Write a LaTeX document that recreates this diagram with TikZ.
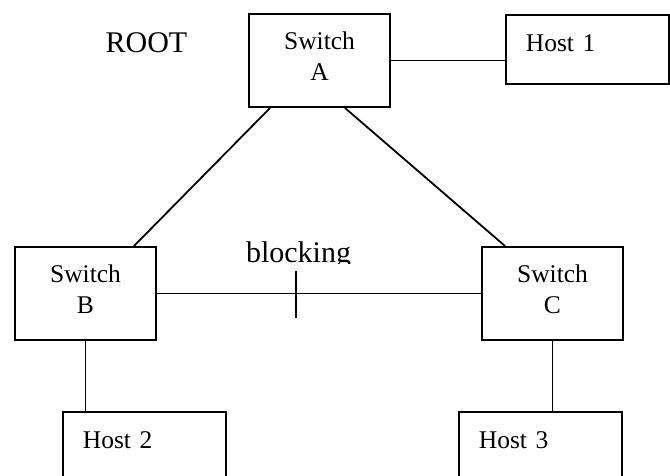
\documentclass[tikz,border=0pt]{standalone}
\usepackage{fontspec}
\setmainfont{Liberation Serif}
\begin{document}
\begin{tikzpicture}[x=1pt,y=1pt,line width=1.8pt,
  switchbox/.style={draw, minimum width=141pt, minimum height=93pt, inner sep=0pt, align=center, text depth=9pt, font=\fontsize{25.5}{31.5}\selectfont},
  hostbox/.style={draw, anchor=north west, inner xsep=20pt, inner ysep=19.5pt, text width=123pt, align=left, text height=17pt, font=\fontsize{25.5}{30}\selectfont},
  bigtext/.style={anchor=base, font=\fontsize{30}{36}\selectfont}]
\useasboundingbox (0,0) rectangle (670,475);
\clip (0,0) rectangle (670,475);
\node[switchbox] (swA) at (319.5,414.5){Switch\\A};
\node[switchbox] (swB) at (85.5,181.5){Switch\\B};
\node[switchbox] (swC) at (552.5,181.5){Switch\\C};
\node[hostbox, text depth=13pt] (host1) at (505,461){Host 1};
\node[hostbox, text depth=60pt] (host2) at (62,64){Host 2};
\node[hostbox, text depth=60pt] (host3) at (458,64){Host 3};
\node[bigtext] (root) at (146.5,422){ROOT};
\begin{scope}
\clip (0,212) rectangle (670,475);
\node[bigtext] (blk) at (298.5,213){blocking};
\end{scope}
\draw[]([xshift=22pt]swA.south west) -- ([xshift=-23pt]swB.north east);
\draw[]([xshift=-46pt]swA.south east) -- ([xshift=24pt]swC.north west);
\draw[](swA.east) -- (swA.east -| host1.west);
\draw[](swB.east) -- coordinate[pos=0.43] (cut) (swC.west);
\draw[]([yshift=23pt]cut) -- ([yshift=-24pt]cut);
\draw[](swB.south) -- (swB.south |- host2.north);
\draw[](swC.south) -- (swC.south |- host3.north);
\end{tikzpicture}
\end{document}
